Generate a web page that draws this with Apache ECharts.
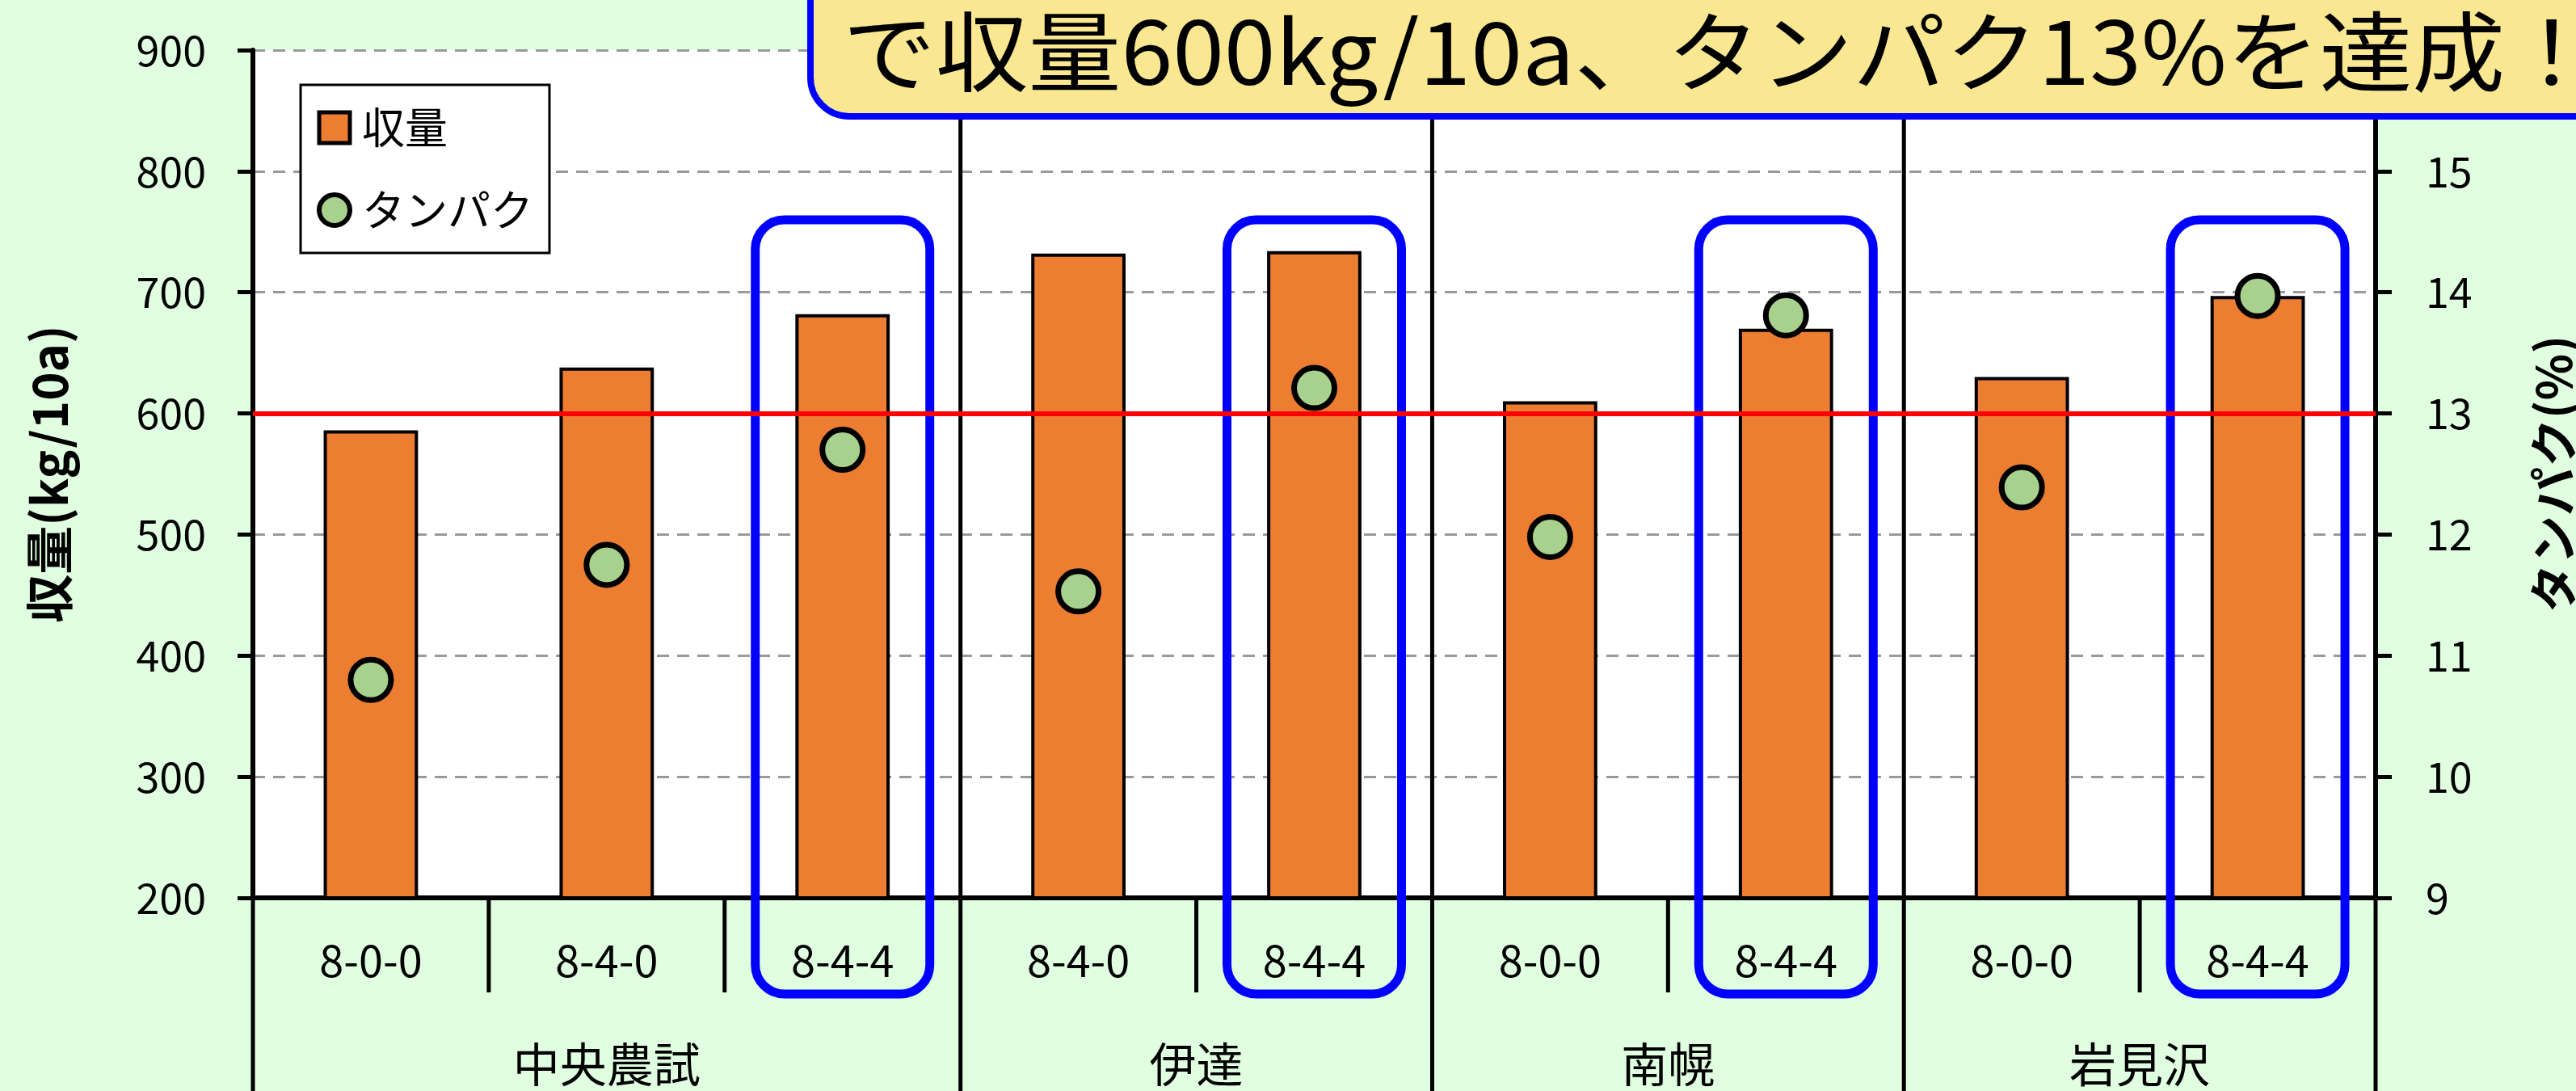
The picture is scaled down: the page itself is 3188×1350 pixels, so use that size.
<!DOCTYPE html>
<html>
<head>
<meta charset="utf-8">
<script src="https://cdn.jsdelivr.net/npm/echarts@6/dist/echarts.min.js"></script>
<style>
  html, body { margin: 0; padding: 0; background: #E0FFE0; }
  #chart { width: 3188px; height: 1350px; }
</style>
</head>
<body>
<div id="chart"></div>
<script>
// Fertiliser treatments (N-P-K style codes) per trial site
const treatments = ['8-0-0', '8-4-0', '8-4-4', '8-4-0', '8-4-4', '8-0-0', '8-4-4', '8-0-0', '8-4-4'];
const sites = ['中央農試', '伊達', '南幌', '岩見沢'];
const siteSizes = [3, 2, 2, 2];

// Yield (kg/10a) and grain protein (%)
const yieldValues = [586, 638, 682, 732, 734, 610, 670, 630, 697];
const proteinValues = [10.8, 11.75, 12.7, 11.53, 13.21, 11.98, 13.81, 12.39, 13.97];

// Axis ranges: [min, max, step]
const yieldRange = [200, 900, 100];
const proteinRange = [9, 16, 1];

const yieldTarget = 600;
const highlighted = [2, 4, 6, 8];
const headline = 'で収量600kg/10a、タンパク13%を達成！';

const FONT = '"Noto Sans CJK JP", "Noto Sans", sans-serif';

const chart = echarts.init(document.getElementById('chart'), null, { renderer: 'canvas' });

const option = {
  backgroundColor: '#E0FFE0',
  animation: false,
  textStyle: { fontFamily: FONT, color: '#000' },
  grid: {
    left: 313, right: 248, top: 62, bottom: 239,
    show: true, backgroundColor: '#FFFFFF', borderWidth: 0,
    containLabel: false, outerBoundsMode: 'none'
  },
  legend: {
    orient: 'vertical',
    left: 372, top: 105,
    padding: [22, 20, 22, 20],
    backgroundColor: '#FFFFFF',
    borderColor: '#000', borderWidth: 3,
    itemWidth: 38, itemHeight: 38,
    itemGap: 40,
    textStyle: { fontSize: 53, fontFamily: FONT, color: '#000', lineHeight: 62, padding: [0, 0, 0, 10] },
    data: [
      { name: '収量', icon: 'rect', itemStyle: { color: '#ED7D31', borderColor: '#000', borderWidth: 5 } },
      { name: 'タンパク', icon: 'circle', itemStyle: { color: '#A9D18E', borderColor: '#000', borderWidth: 6 } }
    ]
  },
  xAxis: {
    type: 'category',
    data: treatments.map((t, i) => String(i)),
    axisLine: { show: true, lineStyle: { color: '#000', width: 6 } },
    axisTick: { show: false },
    splitLine: { show: false },
    axisLabel: {
      formatter: (v, i) => treatments[i],
      fontSize: 54, lineHeight: 54, color: '#000', fontFamily: FONT, margin: 50, interval: 0
    }
  },
  yAxis: [
    {
      type: 'value',
      min: yieldRange[0], max: yieldRange[1], interval: yieldRange[2],
      name: '収量(kg/10a)',
      nameLocation: 'middle', nameRotate: 90, nameGap: 222,
      nameTextStyle: { fontSize: 60, fontWeight: 'bold', fontFamily: FONT, color: '#000' },
      axisLine: { show: true, lineStyle: { color: '#000', width: 6 } },
      axisTick: { show: true, inside: false, length: 19, lineStyle: { color: '#000', width: 5 } },
      axisLabel: { fontSize: 52, color: '#000', fontFamily: FONT, margin: 58 },
      splitLine: { show: true, lineStyle: { color: '#999', width: 3, type: [15, 10] } }
    },
    {
      type: 'value',
      position: 'right',
      min: proteinRange[0], max: proteinRange[1], interval: proteinRange[2],
      name: 'タンパク(%)',
      nameLocation: 'middle', nameRotate: 90, nameGap: 190,
      nameTextStyle: { fontSize: 60, fontWeight: 'bold', fontFamily: FONT, color: '#000' },
      axisLine: { show: true, lineStyle: { color: '#000', width: 6 } },
      axisTick: { show: true, inside: false, length: 20, lineStyle: { color: '#000', width: 5 } },
      axisLabel: {
        fontSize: 52, color: '#000', fontFamily: FONT, margin: 62,
        formatter: v => (v === proteinRange[1] ? '' : String(v))
      },
      splitLine: { show: false }
    }
  ],
  series: [
    {
      name: '収量',
      type: 'bar',
      yAxisIndex: 0,
      barWidth: '40%',
      z: 2,
      itemStyle: { color: '#ED7D31', borderColor: '#000', borderWidth: 4 },
      data: yieldValues,
      markLine: {
        silent: true,
        symbol: 'none',
        z: 5,
        label: { show: false },
        lineStyle: { color: '#FF0000', width: 6, type: 'solid' },
        data: [{ yAxis: yieldTarget }]
      }
    },
    {
      name: 'タンパク',
      type: 'scatter',
      yAxisIndex: 1,
      z: 6,
      symbol: 'circle',
      symbolSize: 50,
      itemStyle: { color: '#A9D18E', borderColor: '#000', borderWidth: 7, opacity: 1 },
      data: proteinValues
    }
  ]
};

chart.setOption(option);

// Category geometry from the x axis
const cx = i => chart.convertToPixel({ xAxisIndex: 0 }, i);
const band = cx(1) - cx(0);
const edge = k => cx(0) + (k - 0.5) * band;      // left edge of category k
const axisY = chart.convertToPixel({ yAxisIndex: 0 }, yieldRange[0]);
const topY = chart.convertToPixel({ yAxisIndex: 0 }, yieldRange[1]);
const H = 1350;

const graphics = [];

// Separators below the axis: long at site boundaries, short between treatments
const siteStarts = [0];
siteSizes.forEach(n => siteStarts.push(siteStarts[siteStarts.length - 1] + n));
for (let k = 0; k <= treatments.length; k++) {
  const x = edge(k);
  const isSite = siteStarts.includes(k);
  const inner = isSite && k > 0 && k < treatments.length;
  graphics.push({
    type: 'line', z: 1, silent: true,
    shape: { x1: x, y1: inner ? topY : axisY, x2: x, y2: isSite ? H : axisY + 117 },
    style: { stroke: '#000', lineWidth: 5 }
  });
}

// Site names centred under their treatment groups
sites.forEach((s, j) => {
  const x = (edge(siteStarts[j]) + edge(siteStarts[j + 1])) / 2;
  graphics.push({
    type: 'text', z: 3, silent: true,
    x: x, y: axisY + 206,
    style: {
      text: s, fill: '#000',
      font: '58px ' + FONT,
      align: 'center', verticalAlign: 'middle',
      textAlign: 'center', textVerticalAlign: 'middle'
    }
  });
});

// Rounded outlines around the 8-4-4 treatments
highlighted.forEach(i => {
  const w = band * 0.74;
  graphics.push({
    type: 'rect', z: 1, silent: true,
    shape: { x: cx(i) - w / 2, y: axisY - 839, width: w, height: 958, r: 36 },
    style: { fill: 'none', stroke: '#0000FF', lineWidth: 11 }
  });
});

// Headline banner
graphics.push({
  type: 'rect', z: 100, silent: true,
  shape: { x: 1003, y: -90, width: 2400, height: 234, r: 48 },
  style: { fill: '#F9E891', stroke: '#0000FF', lineWidth: 8 }
});
graphics.push({
  type: 'text', z: 101, silent: true,
  x: 1043, y: 64,
  scaleX: 1.063,
  style: {
    text: headline, fill: '#000',
    font: '108px ' + FONT,
    align: 'left', verticalAlign: 'middle',
    textAlign: 'left', textVerticalAlign: 'middle'
  }
});

chart.setOption({ graphic: { elements: graphics } });
</script>
</body>
</html>
